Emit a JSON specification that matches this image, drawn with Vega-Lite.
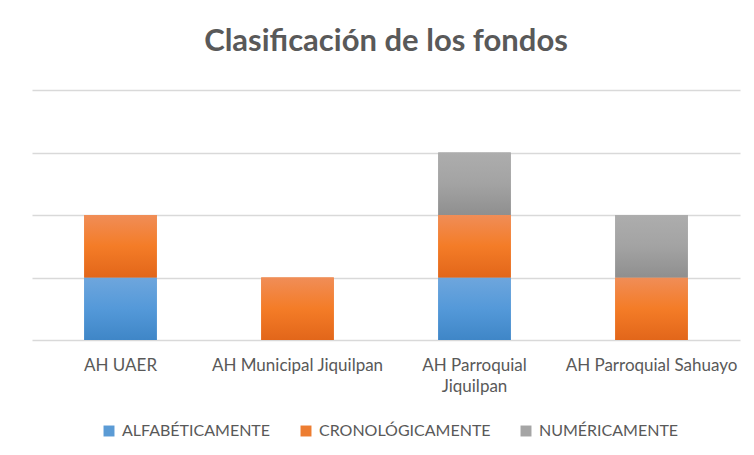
{
  "$schema": "https://vega.github.io/schema/vega-lite/v6.json",
  "width": 708,
  "height": 250,
  "autosize": "none",
  "padding": {"left": 32, "top": 90, "right": 14, "bottom": 115},
  "background": "white",
  "title": {
    "text": "Clasificación de los fondos",
    "font": "Lato",
    "fontSize": 31,
    "fontWeight": "bold",
    "color": "#595959",
    "anchor": "middle",
    "offset": 32
  },
  "data": {
    "values": [
      {"archivo": "AH UAER", "tipo": "ALFABÉTICAMENTE", "valor": 1},
      {"archivo": "AH UAER", "tipo": "CRONOLÓGICAMENTE", "valor": 1},
      {"archivo": "AH Municipal Jiquilpan", "tipo": "CRONOLÓGICAMENTE", "valor": 1},
      {"archivo": "AH Parroquial Jiquilpan", "tipo": "ALFABÉTICAMENTE", "valor": 1},
      {"archivo": "AH Parroquial Jiquilpan", "tipo": "CRONOLÓGICAMENTE", "valor": 1},
      {"archivo": "AH Parroquial Jiquilpan", "tipo": "NUMÉRICAMENTE", "valor": 1},
      {"archivo": "AH Parroquial Sahuayo", "tipo": "CRONOLÓGICAMENTE", "valor": 1},
      {"archivo": "AH Parroquial Sahuayo", "tipo": "NUMÉRICAMENTE", "valor": 1}
    ]
  },
  "transform": [
    {"stack": "valor", "groupby": ["archivo"], "sort": [{"field": "tipo", "order": "ascending"}], "as": ["y0", "y1"]}
  ],
  "encoding": {
    "x": {
      "field": "archivo",
      "type": "nominal",
      "sort": ["AH UAER", "AH Municipal Jiquilpan", "AH Parroquial Jiquilpan", "AH Parroquial Sahuayo"],
      "title": null,
      "scale": {"paddingInner": 0.59, "paddingOuter": 0.295},
      "axis": {
        "labelAngle": 0,
        "labelFont": "Lato",
        "labelFontSize": 17,
        "labelColor": "#595959",
        "labelPadding": 17,
        "labelLineHeight": 21,
        "labelLimit": 300,
        "ticks": false,
        "domain": false,
        "labelExpr": "datum.value == 'AH Parroquial Jiquilpan' ? ['AH Parroquial', 'Jiquilpan'] : datum.value"
      }
    },
    "y": {
      "field": "y0",
      "type": "quantitative",
      "scale": {"domain": [0, 4]},
      "title": null,
      "axis": {
        "labels": false,
        "ticks": false,
        "domain": false,
        "tickCount": 4,
        "gridColor": "#d9d9d9",
        "gridWidth": 1.5
      }
    },
    "y2": {"field": "y1"}
  },
  "layer": [
    {
      "mark": {"type": "bar"},
      "encoding": {
        "color": {
          "field": "tipo",
          "type": "nominal",
          "scale": {
            "domain": ["ALFABÉTICAMENTE", "CRONOLÓGICAMENTE", "NUMÉRICAMENTE"],
            "range": ["#5b9bd5", "#ed7d31", "#a5a5a5"]
          },
          "legend": {
            "orient": "none",
            "legendX": 69,
            "legendY": 333,
            "direction": "horizontal",
            "title": null,
            "symbolType": "square",
            "symbolSize": 120,
            "symbolStrokeWidth": 0,
            "labelFont": "Lato",
            "labelFontSize": 16,
            "labelLimit": 300,
            "labelColor": "#595959",
            "labelOffset": 5,
            "columnPadding": 27
          }
        }
      }
    },
    {
      "transform": [{"filter": "datum.tipo == 'ALFABÉTICAMENTE'"}],
      "mark": {"type": "bar", "color": {"gradient": "linear", "x1": 0, "y1": 0, "x2": 0, "y2": 1, "stops": [{"offset": 0, "color": "#6ea6dd"}, {"offset": 0.5, "color": "#5499d9"}, {"offset": 1, "color": "#3f86c7"}]}}
    },
    {
      "transform": [{"filter": "datum.tipo == 'CRONOLÓGICAMENTE'"}],
      "mark": {"type": "bar", "color": {"gradient": "linear", "x1": 0, "y1": 0, "x2": 0, "y2": 1, "stops": [{"offset": 0, "color": "#f08d57"}, {"offset": 0.5, "color": "#f47c27"}, {"offset": 1, "color": "#e2661a"}]}}
    },
    {
      "transform": [{"filter": "datum.tipo == 'NUMÉRICAMENTE'"}],
      "mark": {"type": "bar", "color": {"gradient": "linear", "x1": 0, "y1": 0, "x2": 0, "y2": 1, "stops": [{"offset": 0, "color": "#adadad"}, {"offset": 0.5, "color": "#a3a3a3"}, {"offset": 1, "color": "#8f8f8f"}]}}
    }
  ],
  "config": {
    "view": {"stroke": null}
  }
}
